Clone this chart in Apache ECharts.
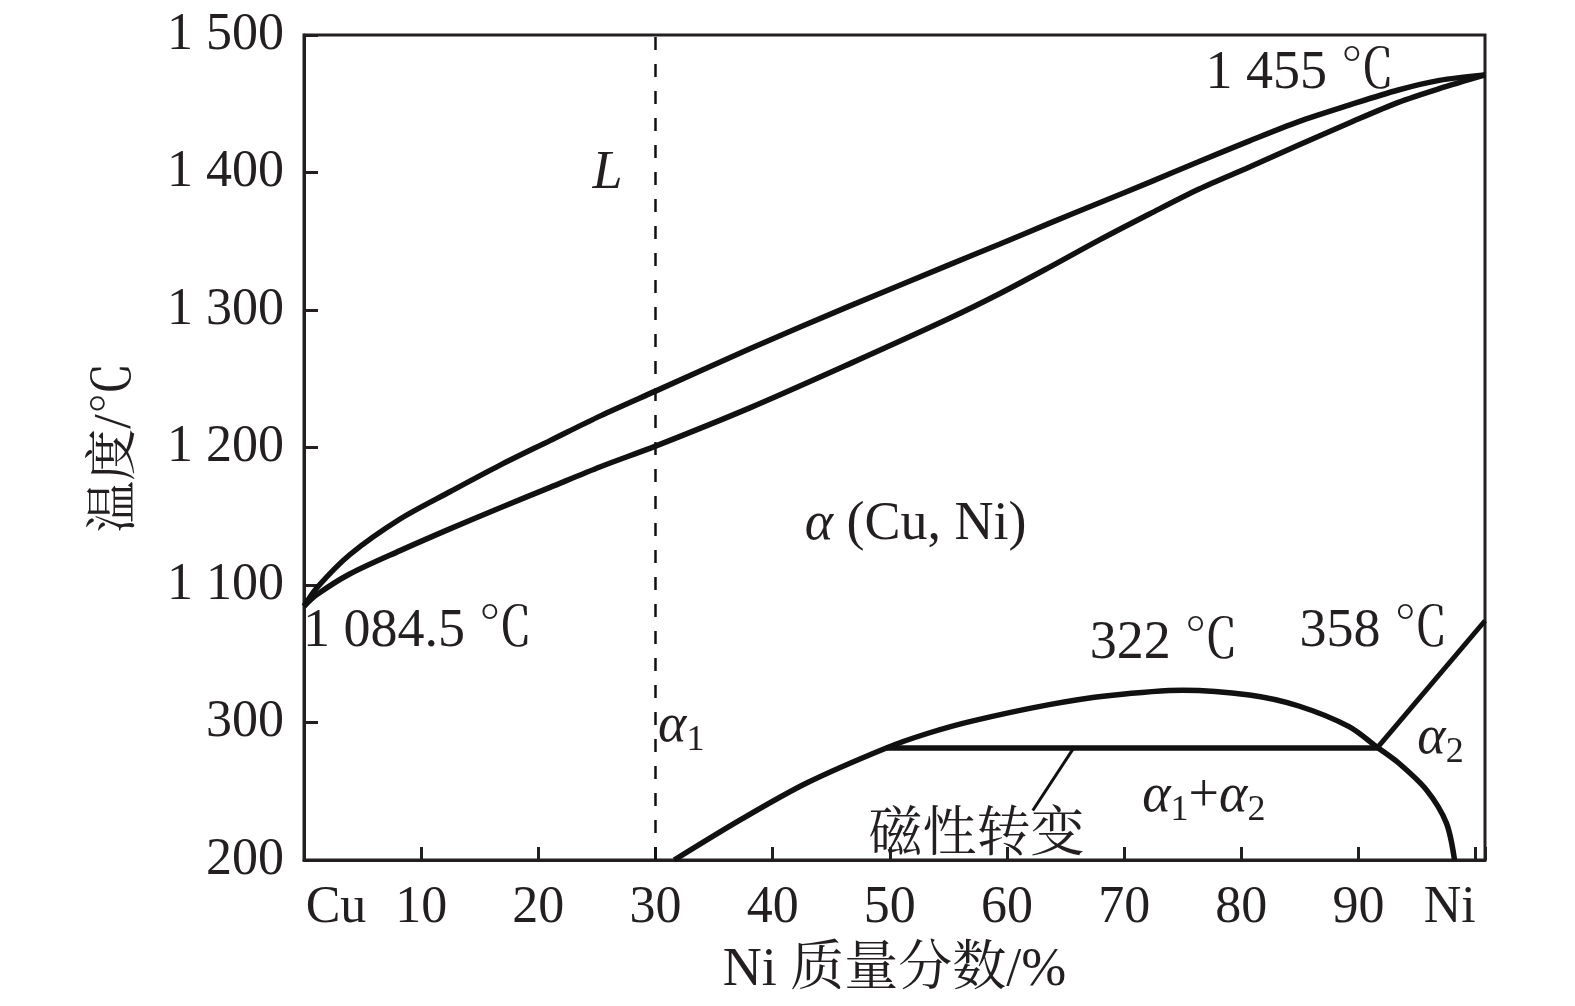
<!DOCTYPE html>
<html><head><meta charset="utf-8">
<script src="https://cdn.jsdelivr.net/npm/echarts@6/dist/echarts.min.js"></script>
<style>html,body{margin:0;padding:0;background:#fff}#c{width:1575px;height:1006px}</style>
</head><body><div id="c"></div>
<script>
// ---- data (Ni mass %, temperature °C) ----
const xTickLabels = ['Cu','10','20','30','40','50','60','70','80','90','Ni'];
const yTickLabels = ['200','300','1 100','1 200','1 300','1 400','1 500'];
const liquidus = [[0,1084.5],[1.1,1098],[3.9,1122],[8.2,1148],[12.5,1168],[16.7,1187],[21,1205],[25.3,1223],[30,1241],[38.1,1272],[46.6,1303],[55.1,1333],[59.4,1348],[63.6,1363],[67.9,1378],[72.2,1393],[76.4,1408],[80.7,1423],[84.9,1437],[89.2,1449],[93.4,1460],[96.9,1467],[100.8,1471]];
const solidus = [[0,1084.5],[1.1,1093],[3.9,1108],[8.2,1125],[12.5,1141],[16.7,1156],[21,1171],[25.3,1186],[30,1201],[38.1,1229],[46.6,1261],[55.1,1294],[59.4,1312],[63.6,1331],[67.9,1351],[72.2,1370],[76.4,1388],[80.7,1404],[84.9,1420],[89.2,1436],[93.4,1451],[96.9,1461],[100.8,1471]];
const miscibilityGap = [[31.6,200],[37.2,229],[42.9,256],[49.7,281.5],[53.2,292],[57,301],[63.6,313],[68.6,319.5],[75,323.5],[80.7,320],[84.9,312],[89.2,297],[91.6,282],[93.5,270],[95.8,251],[97.5,227],[98.2,200]];
const magneticLine = [[49.7,281.5],[91.6,281.5]];
const curieLine = [[91.6,281.5],[100.8,374]];
const pointerLine = [[65.7,281.5],[62.2,236]];
const alloyLine = [[30,200],[30,1500]];
const annoText = ['1 455 ℃','{i|L}','{i|α} (Cu, Ni)','1 084.5 ℃','322 ℃','358 ℃','{i|α}{s|1}','{i|α}{s|2}','{i|α}{s|1}+{i|α}{s|2}','磁性转变'];
const annoNi   = [85, 25.9, 52.2, 9.7, 73.4, 91.3, 32.2, 97.0, 76.8, 57.4];
const annoT    = [1472, 1399, 1144, 1066, 357, 366, 297, 288, 246, 217];

// broken temperature axis: 200–300 below the break, 1100–1500 above it
function toAxis(T){ return T >= 1000 ? (T - 900) / 100 : (T - 200) / 100; }
const conv = arr => arr.map(p => [p[0], toAxis(p[1])]);

const FONT = "'Liberation Serif','Noto Serif CJK SC','Noto Sans CJK SC',serif";
const INK = '#231f20';
const chart = echarts.init(document.getElementById('c'));
const lineSeries = (data, w, extra) => Object.assign({
  type:'line', data: conv(data), showSymbol:false, symbol:'none', smooth:0.3,
  lineStyle:{color:'#111', width:w}, silent:true, z:3
}, extra||{});

function xLabel(v){
  if (!(Math.abs(v % 10) < 1e-9 && v <= 100)) return '';
  const k = Math.round(v/10);
  if (k === 0) return '{cu|' + xTickLabels[k] + '}';
  if (k === 10) return '{ni|' + xTickLabels[k] + '}';
  return xTickLabels[k];
}

chart.setOption({
  animation:false,
  grid:{left:304, right:90, top:35, bottom:146, show:true, borderColor:INK, borderWidth:3},
  xAxis:{
    type:'value', min:0, max:100.8, interval:10,
    name:'Ni 质量分数/%', nameLocation:'middle', nameGap:84,
    nameTextStyle:{fontFamily:FONT, fontSize:54, color:INK},
    axisLine:{lineStyle:{color:INK, width:3}},
    axisTick:{inside:true, length:13, lineStyle:{color:INK, width:3}},
    splitLine:{show:false},
    axisLabel:{fontFamily:FONT, fontSize:52, color:INK, margin:22, formatter:xLabel,
      rich:{
        cu:{fontFamily:FONT, fontSize:52, color:INK, padding:[0,0,0,64]},
        ni:{fontFamily:FONT, fontSize:52, color:INK, padding:[0,52,0,0]}
      }}
  },
  yAxis:{
    type:'value', min:0, max:6, interval:1,
    name:'温度/℃', nameLocation:'middle', nameGap:162,
    nameTextStyle:{fontFamily:FONT, fontSize:52, color:INK},
    axisLine:{lineStyle:{color:INK, width:3}},
    axisTick:{inside:true, length:14, lineStyle:{color:INK, width:3}},
    splitLine:{show:false},
    axisLabel:{fontFamily:FONT, fontSize:52, color:INK, margin:20,
      formatter:v => yTickLabels[Math.round(v)] || ''}
  },
  series:[
    lineSeries(liquidus, 5.5),
    lineSeries(solidus, 5.5),
    lineSeries(miscibilityGap, 5.5),
    lineSeries(magneticLine, 5.5, {smooth:false}),
    lineSeries(curieLine, 5, {smooth:false}),
    lineSeries(pointerLine, 3, {smooth:false}),
    lineSeries(alloyLine, 2.5, {smooth:false, lineStyle:{color:'#111', width:2.5, type:[13,14]}}),
    {
      type:'scatter', symbolSize:0, silent:true, z:5,
      itemStyle:{opacity:1},
      data: annoText.map((t,i) => ({value:[annoNi[i], toAxis(annoT[i])], name:t})),
      label:{show:true, position:'inside', formatter:p => p.name, opacity:1,
        fontFamily:FONT, fontSize:54, color:INK,
        rich:{
          i:{fontFamily:FONT, fontStyle:'italic', fontSize:54, color:INK},
          s:{fontFamily:FONT, fontSize:36, color:INK, padding:[28,0,0,0]}
        }}
    }
  ]
});
</script></body></html>
